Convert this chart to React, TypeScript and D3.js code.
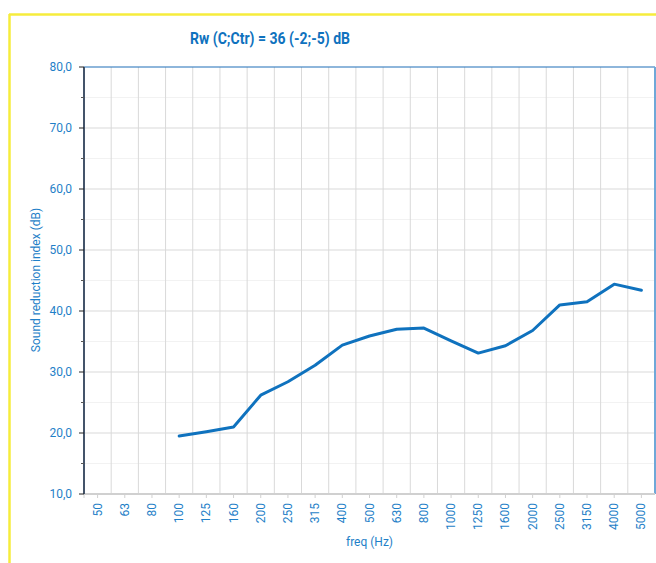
import React from "react";
import * as d3 from "d3";

const categories = ["50","63","80","100","125","160","200","250","315","400","500","630","800","1000","1250","1600","2000","2500","3150","4000","5000"];
const values: (number | null)[] = [null,null,null,19.5,20.2,21.0,26.2,28.4,31.1,34.4,35.9,37.0,37.2,35.1,33.1,34.3,36.8,41.0,41.5,44.4,43.4];
const yMajorTicks = [10,20,30,40,50,60,70,80];
const yMinorTicks = [15,25,35,45,55,65,75];
const title = "Rw (C;Ctr) = 36 (-2;-5) dB";
const yLabel = "Sound reduction index (dB)";
const xLabel = "freq (Hz)";

const W = 656, H = 563;
const left = 84, right = 655, top = 67, bottom = 494;
const blue = "#1f7fc8";
const lineBlue = "#0f72be";

export default function App() {
  const x = d3.scaleBand<string>().domain(categories).range([left, right]).padding(0);
  const y = d3.scaleLinear().domain([10, 80]).range([bottom, top]);
  const pts = categories.map((c, i) => ({ c, v: values[i] })).filter(d => d.v != null) as { c: string; v: number }[];
  const line = d3.line<{ c: string; v: number }>()
    .x(d => (x(d.c) as number) + x.bandwidth() / 2)
    .y(d => y(d.v));
  const bounds = categories.map(c => x(c) as number).concat([right]);

  return (
    <svg width={W} height={H} style={{ position: "absolute", left: 0, top: 0 }} fontFamily="Roboto, 'Liberation Sans', Arial, sans-serif">
      <rect x={0} y={0} width={W} height={H} fill="#ffffff" />
      {/* yellow border */}
      <line x1={9.5} y1={14} x2={9.5} y2={H} stroke="#f6ec3c" strokeWidth={2.5} />
      <line x1={9} y1={14.5} x2={W} y2={14.5} stroke="#f6ec3c" strokeWidth={2.5} />
      {/* title */}
      <text x={270} y={44} textAnchor="middle" fontSize={17} fontWeight="bold" fill={lineBlue}
        textLength={160} lengthAdjust="spacingAndGlyphs">{title}</text>
      {/* minor gridlines */}
      {yMinorTicks.map(t => (
        <line key={"mg" + t} x1={left} x2={right} y1={y(t)} y2={y(t)} stroke="#f2f2f2" strokeWidth={1} />
      ))}
      {/* major gridlines */}
      {yMajorTicks.filter(t => t !== 10 && t !== 80).map(t => (
        <line key={"g" + t} x1={left} x2={right} y1={y(t)} y2={y(t)} stroke="#d9d9d9" strokeWidth={1} />
      ))}
      {/* vertical gridlines */}
      {bounds.slice(1, -1).map((b, i) => (
        <line key={"v" + i} x1={b} x2={b} y1={top} y2={bottom} stroke="#d9d9d9" strokeWidth={1} />
      ))}
      {/* top border */}
      <line x1={left} x2={right} y1={top} y2={top} stroke="#1f6fb8" strokeWidth={1.2} />
      {/* right border */}
      <line x1={right} x2={right} y1={top} y2={bottom} stroke="#6fa8d8" strokeWidth={2} />
      {/* bottom axis */}
      <line x1={left} x2={right} y1={bottom} y2={bottom} stroke="#d0d0d0" strokeWidth={2} />
      {categories.map(c => {
        const cx = (x(c) as number) + x.bandwidth() / 2;
        return <line key={"xt" + c} x1={cx} x2={cx} y1={bottom} y2={bottom + 4} stroke="#d0d0d0" strokeWidth={1} />;
      })}
      <line x1={left} x2={left} y1={bottom} y2={bottom + 4} stroke="#d0d0d0" strokeWidth={1} />
      {/* left axis */}
      <line x1={left} x2={left} y1={top} y2={bottom} stroke="#44546a" strokeWidth={2} />
      {yMajorTicks.map(t => (
        <line key={"yt" + t} x1={left - 5} x2={left} y1={y(t)} y2={y(t)} stroke="#222" strokeWidth={1} />
      ))}
      {yMinorTicks.map(t => (
        <line key={"ymt" + t} x1={left - 3} x2={left} y1={y(t)} y2={y(t)} stroke="#555" strokeWidth={1} />
      ))}
      {/* y tick labels */}
      {yMajorTicks.map(t => (
        <text key={"yl" + t} x={72} y={y(t) + 4} textAnchor="end" fontSize={12} fill={blue}>
          {t.toFixed(1).replace(".", ",")}
        </text>
      ))}
      {/* x tick labels */}
      {categories.map(c => {
        const cx = (x(c) as number) + x.bandwidth() / 2;
        return (
          <text key={"xl" + c} transform={`translate(${cx + 4},503) rotate(-90)`} textAnchor="end" fontSize={12} fill={blue}>
            {c}
          </text>
        );
      })}
      {/* axis labels */}
      <text transform={`translate(40,280) rotate(-90)`} textAnchor="middle" fontSize={12} fill={blue}>{yLabel}</text>
      <text x={(left + right) / 2} y={546} textAnchor="middle" fontSize={12} fill={blue}>{xLabel}</text>
      {/* data line */}
      <path d={line(pts) as string} fill="none" stroke={lineBlue} strokeWidth={3} strokeLinejoin="round" strokeLinecap="round" />
    </svg>
  );
}
